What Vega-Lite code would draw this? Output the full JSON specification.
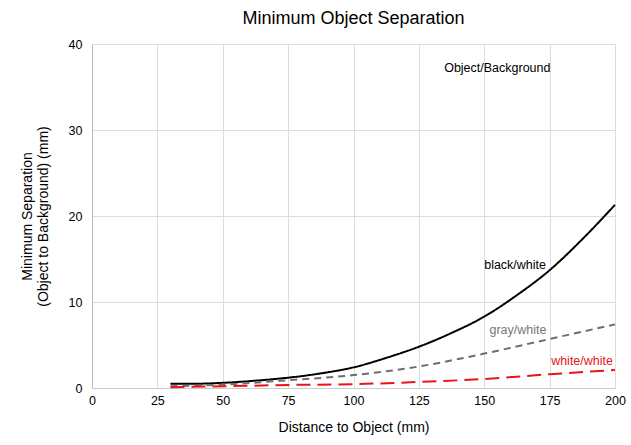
{
  "$schema": "https://vega.github.io/schema/vega-lite/v6.json",
  "width": 523,
  "height": 344,
  "autosize": {"type": "none"},
  "padding": {"left": 92, "top": 44, "right": 16, "bottom": 57},
  "background": "white",
  "config": {
    "font": "Liberation Sans",
    "view": {"stroke": null}
  },
  "title": {
    "text": "Minimum Object Separation",
    "fontSize": 18,
    "fontWeight": "normal",
    "font": "Liberation Sans",
    "color": "#000",
    "offset": 10
  },
  "layer": [
    {
      "data": {
        "values": [
          {"d": 30, "s": 0.5, "series": "black/white"},
          {"d": 40, "s": 0.5, "series": "black/white"},
          {"d": 50, "s": 0.6, "series": "black/white"},
          {"d": 62.5, "s": 0.85, "series": "black/white"},
          {"d": 75, "s": 1.2, "series": "black/white"},
          {"d": 87.5, "s": 1.7, "series": "black/white"},
          {"d": 100, "s": 2.4, "series": "black/white"},
          {"d": 112.5, "s": 3.5, "series": "black/white"},
          {"d": 125, "s": 4.8, "series": "black/white"},
          {"d": 137.5, "s": 6.4, "series": "black/white"},
          {"d": 150, "s": 8.3, "series": "black/white"},
          {"d": 162.5, "s": 10.8, "series": "black/white"},
          {"d": 175, "s": 13.7, "series": "black/white"},
          {"d": 187.5, "s": 17.3, "series": "black/white"},
          {"d": 200, "s": 21.3, "series": "black/white"},
          {"d": 30, "s": 0.2, "series": "gray/white"},
          {"d": 50, "s": 0.4, "series": "gray/white"},
          {"d": 75, "s": 0.9, "series": "gray/white"},
          {"d": 100, "s": 1.5, "series": "gray/white"},
          {"d": 125, "s": 2.5, "series": "gray/white"},
          {"d": 150, "s": 4.0, "series": "gray/white"},
          {"d": 175, "s": 5.7, "series": "gray/white"},
          {"d": 200, "s": 7.4, "series": "gray/white"},
          {"d": 30, "s": 0.1, "series": "white/white"},
          {"d": 50, "s": 0.2, "series": "white/white"},
          {"d": 75, "s": 0.35, "series": "white/white"},
          {"d": 100, "s": 0.45, "series": "white/white"},
          {"d": 125, "s": 0.7, "series": "white/white"},
          {"d": 150, "s": 1.05, "series": "white/white"},
          {"d": 175, "s": 1.6, "series": "white/white"},
          {"d": 200, "s": 2.1, "series": "white/white"}
        ]
      },
      "mark": {"type": "line", "interpolate": "monotone", "strokeWidth": 2},
      "encoding": {
        "x": {
          "field": "d", "type": "quantitative",
          "scale": {"domain": [0, 200], "nice": false},
          "axis": {
            "title": "Distance to Object (mm)",
            "values": [0, 25, 50, 75, 100, 125, 150, 175, 200],
            "grid": true, "gridColor": "#dddddd", "gridWidth": 1,
            "domainColor": "#cccccc", "ticks": false, "labelFlush": false,
            "labelFontSize": 12.5, "labelColor": "#000", "labelPadding": 6,
            "titleFontSize": 14, "titleFontWeight": "normal", "titleColor": "#000", "titlePadding": 14,
            "labelFont": "Liberation Sans", "titleFont": "Liberation Sans"
          }
        },
        "y": {
          "field": "s", "type": "quantitative",
          "scale": {"domain": [0, 40], "nice": false},
          "axis": {
            "title": ["Minimum Separation", "(Object to Background) (mm)"],
            "values": [0, 10, 20, 30, 40],
            "grid": true, "gridColor": "#dddddd", "gridWidth": 1,
            "domainColor": "#bbbbbb", "ticks": false, "labelFlush": false,
            "labelFontSize": 12.5, "labelColor": "#000", "labelPadding": 10,
            "titleFontSize": 14, "titleFontWeight": "normal", "titleColor": "#000", "titlePadding": 18,
            "labelFont": "Liberation Sans", "titleFont": "Liberation Sans"
          }
        },
        "color": {
          "field": "series", "type": "nominal",
          "scale": {"domain": ["black/white", "gray/white", "white/white"], "range": ["#000000", "#6e6e6e", "#e8141b"]},
          "legend": null
        },
        "strokeDash": {
          "field": "series", "type": "nominal",
          "scale": {"domain": ["black/white", "gray/white", "white/white"], "range": [[1, 0], [7, 5], [14, 7]]},
          "legend": null
        },
        "order": {"field": "d", "type": "quantitative"}
      }
    },
    {
      "data": {"values": [{}]},
      "mark": {"type": "text", "fontSize": 12.5, "fill": "#000000", "font": "Liberation Sans"},
      "encoding": {"x": {"datum": 155}, "y": {"datum": 37.2}, "text": {"value": "Object/Background"}}
    },
    {
      "data": {"values": [{}]},
      "mark": {"type": "text", "fontSize": 12.5, "fill": "#000000", "font": "Liberation Sans"},
      "encoding": {"x": {"datum": 161.8}, "y": {"datum": 14.3}, "text": {"value": "black/white"}}
    },
    {
      "data": {"values": [{}]},
      "mark": {"type": "text", "fontSize": 12.5, "fill": "#777777", "font": "Liberation Sans"},
      "encoding": {"x": {"datum": 162.9}, "y": {"datum": 6.7}, "text": {"value": "gray/white"}}
    },
    {
      "data": {"values": [{}]},
      "mark": {"type": "text", "fontSize": 12.5, "fill": "#e8141b", "font": "Liberation Sans"},
      "encoding": {"x": {"datum": 187.4}, "y": {"datum": 3.1}, "text": {"value": "white/white"}}
    }
  ]
}
